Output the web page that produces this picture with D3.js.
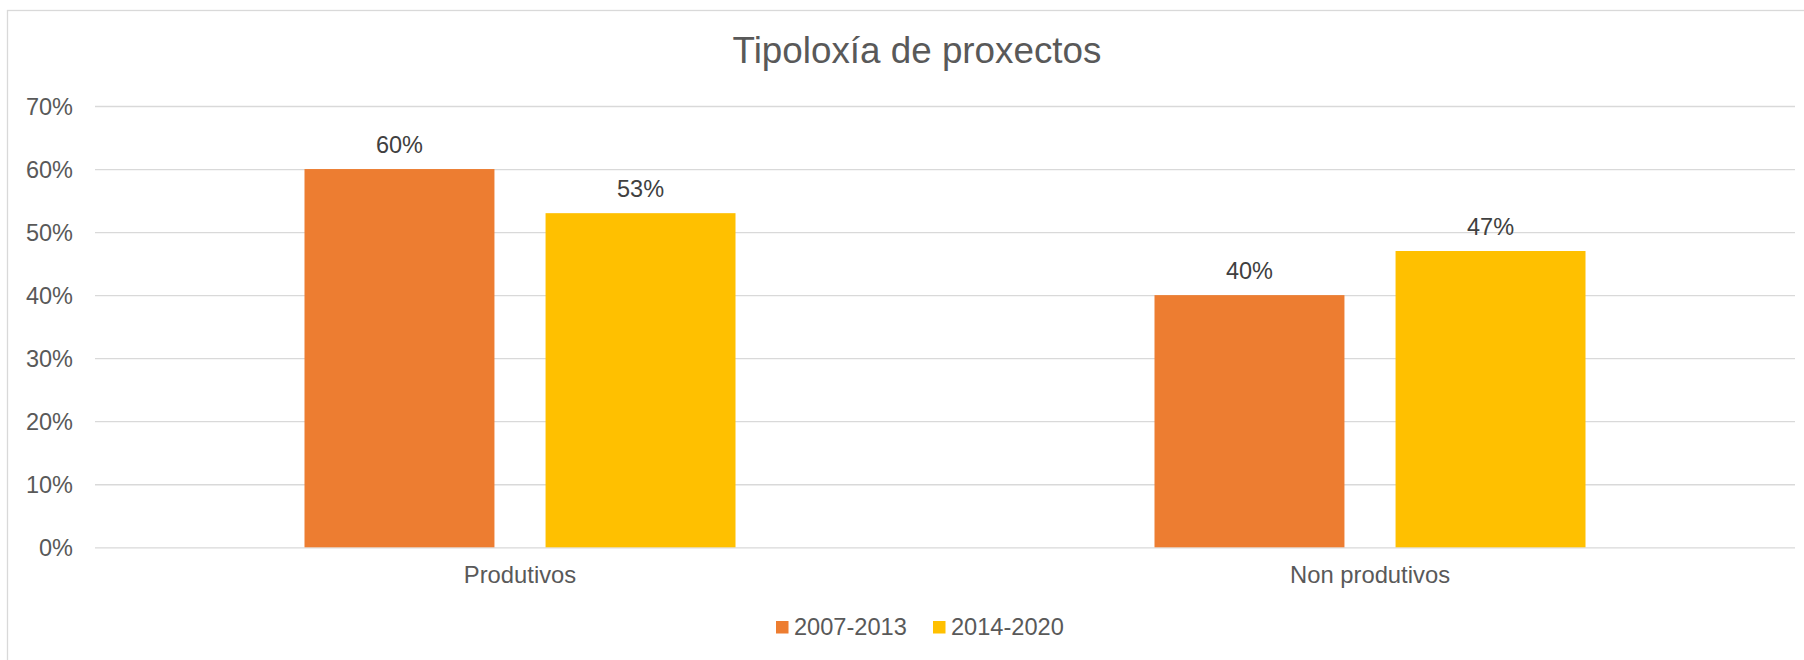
<!DOCTYPE html>
<html>
<head>
<meta charset="utf-8">
<script src="https://cdn.jsdelivr.net/npm/d3@7"></script>
<style>
    body { margin: 0; background: #fff; }
    svg { display: block; font-family: 'Liberation Sans', Arial, sans-serif; }
</style>
</head>
<body>
<svg id="chart" width="1804" height="660"></svg>
<script>
const categories = ['Produtivos', 'Non produtivos'];
const seriesNames = ['2007-2013', '2014-2020'];
const values2007 = [0.60, 0.40];
const values2014 = [0.53, 0.47];
const yTicks = [0, 0.1, 0.2, 0.3, 0.4, 0.5, 0.6, 0.7];
const seriesColors = ['#ed7d31', '#ffc000'];

const seriesValues = [values2007, values2014];

function createBarChart() {
    const margin = { top: 106, right: 9, bottom: 112.7, left: 95 };
    const width = 1804;
    const height = 660;

    const svg = d3.select('#chart');

    // chart frame
    svg.append('rect')
        .attr('x', 7.5)
        .attr('y', 10.5)
        .attr('width', 1810)
        .attr('height', 660)
        .attr('fill', 'none')
        .attr('stroke', '#d9d9d9')
        .attr('stroke-width', 1.3);

    const x0 = d3.scaleBand()
        .domain(categories)
        .range([margin.left, width - margin.right])
        .padding(0);

    const groupWidth = 431;
    const x1 = d3.scaleBand()
        .domain(seriesNames)
        .range([0, groupWidth])
        .paddingInner(0.212)
        .paddingOuter(0);

    const y = d3.scaleLinear()
        .domain([0, 0.7])
        .range([height - margin.bottom, margin.top]);

    // gridlines + y labels
    const yAxis = svg.append('g')
        .attr('transform', `translate(${margin.left},0)`)
        .call(d3.axisLeft(y)
            .tickValues(yTicks)
            .tickSize(-(width - margin.left - margin.right))
            .tickPadding(22)
            .tickFormat(d3.format('.0%')));

    yAxis.select('.domain').remove();
    yAxis.selectAll('.tick line')
        .attr('stroke', '#d9d9d9')
        .attr('stroke-width', 1.3);
    yAxis.selectAll('.tick text')
        .attr('fill', '#595959')
        .style('font-size', '23.5px')
        .attr('dy', '0.35em');

    // bars
    const groups = svg.append('g')
        .selectAll('g')
        .data(categories)
        .join('g')
        .attr('transform', d => `translate(${x0(d) + x0.bandwidth() / 2 - groupWidth / 2},0)`);

    groups.selectAll('rect')
        .data((d, i) => seriesNames.map((s, j) => ({ series: s, value: seriesValues[j][i], color: seriesColors[j] })))
        .join('rect')
        .attr('x', d => x1(d.series))
        .attr('y', d => y(d.value))
        .attr('width', x1.bandwidth())
        .attr('height', d => y(0) - y(d.value))
        .attr('fill', d => d.color);

    // data labels
    groups.selectAll('text')
        .data((d, i) => seriesNames.map((s, j) => ({ series: s, value: seriesValues[j][i] })))
        .join('text')
        .attr('x', d => x1(d.series) + x1.bandwidth() / 2)
        .attr('y', d => y(d.value) - 16)
        .attr('text-anchor', 'middle')
        .attr('fill', '#404040')
        .style('font-size', '23.5px')
        .text(d => d3.format('.0%')(d.value));

    // category labels
    svg.append('g')
        .selectAll('text')
        .data(categories)
        .join('text')
        .attr('x', d => x0(d) + x0.bandwidth() / 2)
        .attr('y', 583)
        .attr('text-anchor', 'middle')
        .attr('fill', '#595959')
        .style('font-size', '23.8px')
        .text(d => d);

    // title
    svg.append('text')
        .attr('x', 917)
        .attr('y', 63)
        .attr('text-anchor', 'middle')
        .attr('fill', '#595959')
        .style('font-size', '36.8px')
        .text('Tipoloxía de proxectos');

    // legend
    const legendX = [776, 933];
    const legend = svg.append('g')
        .selectAll('g')
        .data(seriesNames)
        .join('g')
        .attr('transform', (d, i) => `translate(${legendX[i]},621)`);

    legend.append('rect')
        .attr('width', 12.5)
        .attr('height', 12.5)
        .attr('fill', (d, i) => seriesColors[i]);

    legend.append('text')
        .attr('x', 18)
        .attr('y', 14)
        .attr('fill', '#595959')
        .style('font-size', '23.6px')
        .text(d => d);
}

createBarChart();
</script>
</body>
</html>
